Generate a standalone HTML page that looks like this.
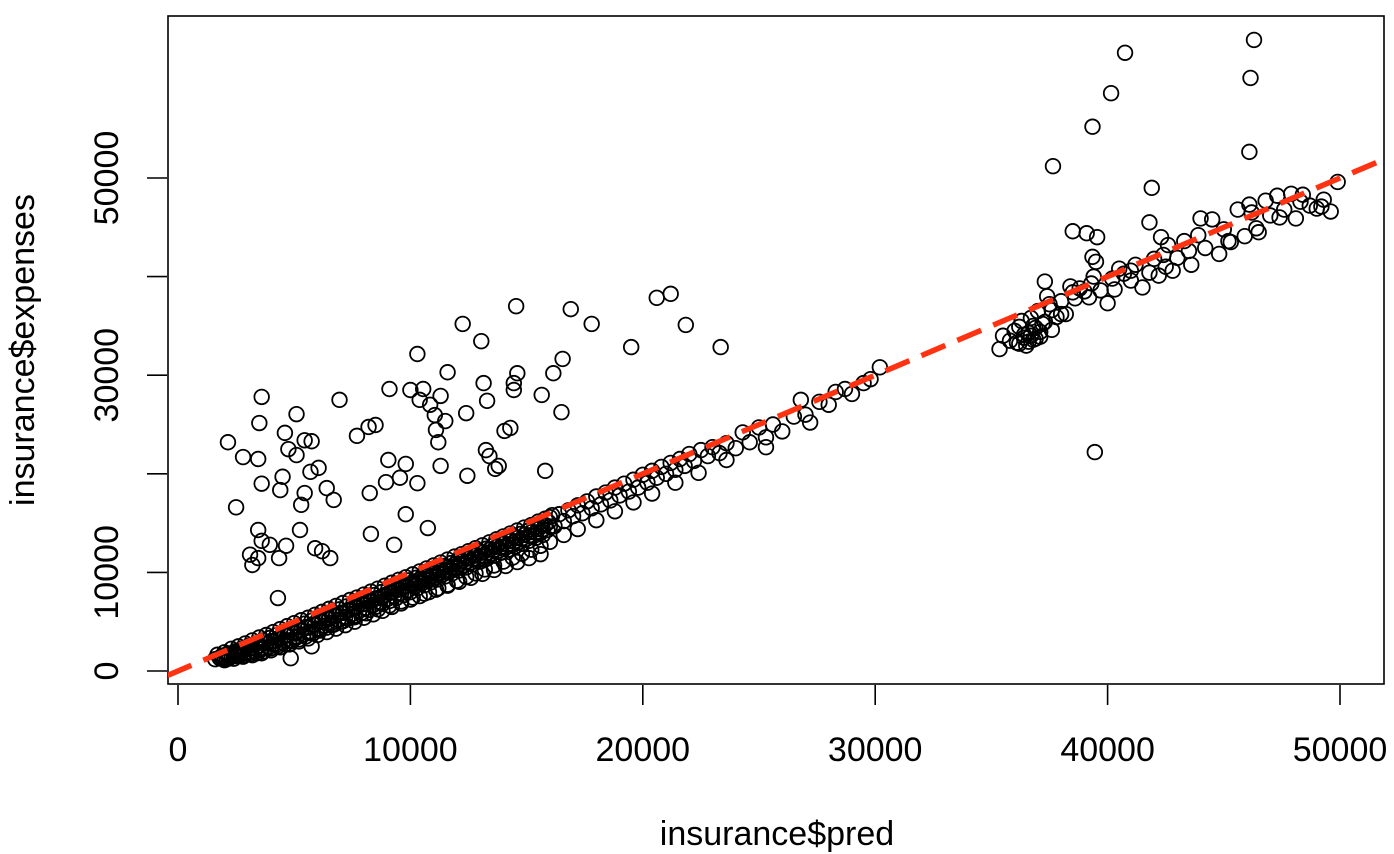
<!DOCTYPE html>
<html><head><meta charset="utf-8"><style>
html,body{margin:0;padding:0;background:#fff;}
svg{display:block;font-family:"Liberation Sans",Arial,sans-serif;}
</style></head><body>
<svg id="chart" width="1394" height="854">
<defs><clipPath id="clip"><rect x="168" y="16" width="1216" height="668"/></clipPath></defs>
<rect x="168" y="16" width="1216" height="668" fill="none" stroke="#000" stroke-width="1.6"/>
<g id="xaxis"></g>
<g id="yaxis"></g>
<g id="pts" clip-path="url(#clip)"></g>
<g id="ref" clip-path="url(#clip)"></g>
<text x="777" y="845" font-size="34" text-anchor="middle">insurance$pred</text>
<text transform="translate(34,350) rotate(-90)" font-size="34" text-anchor="middle">insurance$expenses</text>
</svg>
<script>
const xTicks=[0,10000,20000,30000,40000,50000];
const yTicks=[0,10000,20000,30000,40000,50000];
const yTickLabels=["0","10000","","30000","","50000"];
const refIntercept=0;
const refSlope=1;
const predVals=[2150,2800,2500,3100,3200,3450,3450,3600,3450,3600,3500,3600,3950,4350,4300,4400,4500,4650,4600,4750,5100,5100,5250,5300,5450,5750,5450,5700,5900,6050,6200,6550,6700,6400,6950,7700,8200,8500,8250,8300,9100,9050,9300,8950,9550,9800,9800,10000,10300,10400,10550,10300,10750,10850,11050,11100,11300,11200,11300,11500,11600,12250,12400,12450,13050,13150,13300,13250,13400,13800,13650,14050,14300,14550,14450,14450,14600,15650,15800,16150,16550,16500,16900,17800,19500,20600,21200,21850,23350,
37650,39350,40150,40750,46300,46150,46100,39450,41900,38500,39100,39550,39350,35350,
1600,1800,1900,2000,2100,2200,2300,2400,2500,2600,2700,2800,2900,3000,3100,3200,3300,3400,3500,3600,3700,3800,3900,4000,4100,4200,4300,4400,4500,4600,4700,4800,4850,4900,5000,5100,5200,5300,5400,5500,5600,5700,5750,5800,5900,6000,6100,6200,6300,6400,6500,6600,6700,6800,6900,7000,7100,7200,7300,7400,7500,7600,7700,7800,7900,8000,8100,8200,8300,8400,8500,8600,8700,8800,8900,9000,9100,9200,9300,9400,9500,9600,9700,9800,9900,10000,10100,10200,10300,10400,10500,10600,10700,10800,10900,11000,11100,11200,11300,11400,11500,11600,11700,11800,11900,12000,12100,12200,12300,12400,12500,12600,12700,12800,12900,13000,13100,13200,13300,13400,13500,13600,13700,13800,13900,14000,14100,14200,14300,14400,14500,14600,14700,14800,14900,15000,15100,15200,15300,15400,15500,15600,15700,15800,15900,16000,16200,16400,16600,16800,17000,17200,17400,17600,17800,18000,18200,18400,18600,18800,19000,19200,19400,19600,19800,20000,20200,20400,20600,20800,21000,21200,21400,21600,21800,22000,22200,22500,22800,23000,23300,23600,24000,24300,24600,25000,25300,25600,26000,26500,26800,27000,27200,27600,28000,28300,28700,29000,29500,29800,30200,
35500,35800,36000,36200,36300,36400,36500,36600,36700,36800,36900,37000,37100,37200,37300,37400,37500,37600,37800,38000,38200,38400,38600,38800,39000,39200,39400,39500,39700,40000,40200,40500,40700,41000,41200,41500,41800,42000,42200,42400,42600,42800,43000,43300,43600,43900,44200,44500,44800,45000,45300,45600,45900,46200,46500,46800,47000,47300,47600,47900,48100,48400,48700,49000,49300,49600,49900,41800,42300,44000,46100,
1700,2000,2300,2600,2900,3200,3500,3800,4100,4400,4700,5000,5300,5600,5900,6200,6500,6800,7100,7400,7700,8000,8300,8600,8900,9200,9500,9800,10100,10400,10700,11000,11300,11600,11900,12200,12500,12800,13100,13400,13700,14000,14300,14600,14900,15200,15500,15800,16100,
2000,2400,2800,3200,3600,4000,4400,4800,5200,5600,6000,6400,6800,7200,7600,8000,8400,8800,9200,9600,10000,10400,10800,11200,11600,12000,12400,12800,13200,13600,14000,14400,14800,15200,15600,16000,16600,17200,18000,18800,19600,20400,21400,22400,23600,25300,
1900,2200,2500,2800,3100,3400,3700,4000,4300,4600,4900,5200,5500,5800,6100,6400,6700,7000,7300,7600,7900,8200,8500,8800,9100,9400,9700,10000,10300,10600,10900,11200,11500,11800,12100,12400,12700,13000,13300,13600,13900,14200,14500,14800,15100,15400,15700,16000,
1850,2150,2450,2750,3050,3350,3650,3950,4250,4550,4850,5150,5450,5750,6050,6350,6650,6950,7250,7550,7850,8150,8450,8750,9050,9350,9650,9950,10250,10550,10850,11150,11450,11750,12050,12350,12650,12950,13250,13550,13850,14150,14450,14750,15050,15350,15650,15950,
2100,2600,3100,3600,4100,4600,5100,5600,6100,6600,7100,7600,8100,8600,9100,9600,10100,10600,11100,11600,12100,12600,13100,13600,14100,14600,15100,15600,
36100,36400,36600,36800,36900,37100,36200,36700,37300,37600,38000,38500,39300,40300,41000,42500,43500,45200,46400,47400,48300,49200];
const expVals=[23200,21700,16600,11800,10750,11450,14300,13200,21500,27800,25150,19000,12800,11450,7400,18350,19700,12700,24150,22500,26050,21900,14300,16850,23400,23300,18050,20200,12450,20600,12150,11450,17350,18550,27500,23850,24750,24950,18050,13900,28600,21400,12800,19150,19600,15900,21000,28500,32150,27500,28600,19050,14500,27000,25950,24450,20800,23200,27900,25350,30300,35200,26150,19800,33450,29200,27400,22400,21800,20800,20500,24350,24650,37000,29200,28500,30200,28000,20300,30200,31650,26250,36700,35200,32850,37850,38250,35100,32850,
51200,55200,58600,62700,64000,60150,52650,22200,49000,44600,44400,44000,42000,32650,
1200,1300,1500,1400,1700,1300,1600,1900,1500,2000,1700,1600,2200,1800,1700,2400,2000,1800,2600,2200,2000,2800,2400,2300,3000,2600,2500,3300,2900,2700,3600,3100,1300,3000,3800,3400,3200,4100,3700,3500,4400,4000,2500,3800,4700,4300,4100,5000,4600,4400,5300,4900,4700,5600,5200,5000,5900,5500,5300,6200,5800,5600,6500,6100,5900,6800,6400,6200,7100,6700,6500,7400,7000,6800,7700,7300,7100,8000,7600,7400,8300,7900,7700,8600,8200,8000,9000,8600,8400,9300,8900,8700,9600,9200,9000,9900,9500,9300,10200,9800,9600,10500,10100,9900,10800,10400,10200,11100,10700,10500,11400,11000,10800,11700,11300,11100,12000,11600,11400,12300,11900,11700,12600,12200,12000,12900,12500,12300,13200,12800,12600,13500,13100,12900,13800,13400,13200,14100,13700,13500,14400,14000,13800,14800,14300,15600,14700,15900,15200,16300,15700,16800,16000,17200,16500,17700,16900,18100,17300,18600,17800,19000,18200,19400,18600,19900,19100,20300,19600,20700,20000,21100,20400,21500,20800,22000,21300,22400,21800,22700,22100,23100,22600,24200,23200,24700,23700,25000,24300,25800,27500,26000,25200,27300,27000,28300,28600,28100,29200,29600,30800,
34000,33500,34500,33200,35500,33800,33000,34300,35800,33600,34800,36500,33900,35200,39500,38000,37200,34600,35900,37500,36200,39000,37800,38800,38500,37900,40000,41500,38600,37300,39800,40800,40300,39600,41200,38900,40400,41800,40100,42200,43200,40600,41900,43600,41200,44200,42900,45800,42300,44800,43500,46800,44100,46500,44500,47700,46200,48200,46800,48400,45900,48300,47200,46900,47800,46600,49600,45500,44000,45900,47300,
1650,1900,2250,2500,2800,3100,3400,3650,3950,4250,4550,4850,5150,5400,5700,6000,6300,6600,6900,7200,7450,7750,8050,8350,8650,8950,9250,9500,9800,10100,10400,10700,11000,11300,11600,11850,12150,12450,12750,13050,13350,13650,13950,14250,14550,14800,15150,15450,15800,
1100,1250,1450,1600,1800,2100,2400,2700,3000,3300,3650,3950,4300,4650,5000,5400,5750,6100,6500,6850,7250,7600,8000,8400,8750,9150,9550,9900,10300,10700,11100,11500,11900,12300,12700,13100,13800,14400,15300,16200,17100,18000,19100,20100,21400,22700,
1300,1550,1750,2000,2250,2500,2800,3050,3300,3600,3900,4150,4450,4750,5000,5300,5600,5900,6150,6450,6750,7050,7350,7600,7900,8200,8500,8800,9100,9350,9650,9950,10250,10550,10850,11100,11400,11700,12000,12300,12600,12850,13150,13450,13750,14050,14350,14650,
1450,1700,2000,2250,2550,2800,3100,3350,3650,3950,4200,4500,4800,5100,5350,5650,5950,6250,6550,6850,7100,7400,7700,8000,8300,8600,8900,9200,9450,9750,10050,10350,10650,10950,11250,11550,11850,12150,12400,12700,13000,13300,13600,13900,14200,14500,14800,15100,
1200,1600,1950,2350,2700,3100,3500,3850,4250,4650,5050,5450,5850,6250,6650,7050,7450,7850,8250,8650,9050,9450,9850,10250,10650,11050,11450,11850,
33300,34100,33400,35000,33700,34400,34900,34000,35400,36600,36200,38400,39300,38700,40600,41000,42600,43600,44900,46000,47600,47100];

const NS='http://www.w3.org/2000/svg';
function sx(v){return 178+v*0.023240;}
function sy(v){return 671-v*0.009860;}
function mk(tag,attrs,parent){const e=document.createElementNS(NS,tag);for(const k in attrs)e.setAttribute(k,attrs[k]);parent.appendChild(e);return e;}
const xa=document.getElementById('xaxis'),ya=document.getElementById('yaxis');
xTicks.forEach(t=>{
  const l=mk('line',{x1:sx(t),x2:sx(t),y1:685,y2:705,stroke:'#000','stroke-width':1.6},xa);
  
  
  const tx=mk('text',{x:sx(t),y:761,'font-size':34,'text-anchor':'middle'},xa);
  tx.textContent=t;
  
  
});
yTicks.forEach((t,i)=>{
  const l=mk('line',{x1:147,x2:167,y1:sy(t),y2:sy(t),stroke:'#000','stroke-width':1.6},ya);
  
  
  if(yTickLabels[i]){
    const tx=mk('text',{transform:`translate(118,${sy(t)}) rotate(-90)`,'font-size':34,'text-anchor':'middle'},ya);
    tx.textContent=yTickLabels[i];
    
    
  }
});
const pg=document.getElementById('pts');
for(let i=0;i<predVals.length;i++){
  const c=mk('circle',{cx:sx(predVals[i]),cy:sy(expVals[i]),r:7.3,fill:'none',stroke:'#000','stroke-width':1.8},pg);
  
  
}
const rg=document.getElementById('ref');
const x0=-2000,x1=60000;
const rl=mk('line',{x1:sx(x0),y1:sy(refIntercept+refSlope*x0),x2:sx(x1),y2:sy(refIntercept+refSlope*x1),stroke:'#ff3311','stroke-width':5.5,'stroke-dasharray':'26 13'},rg);


</script>
</body></html>
